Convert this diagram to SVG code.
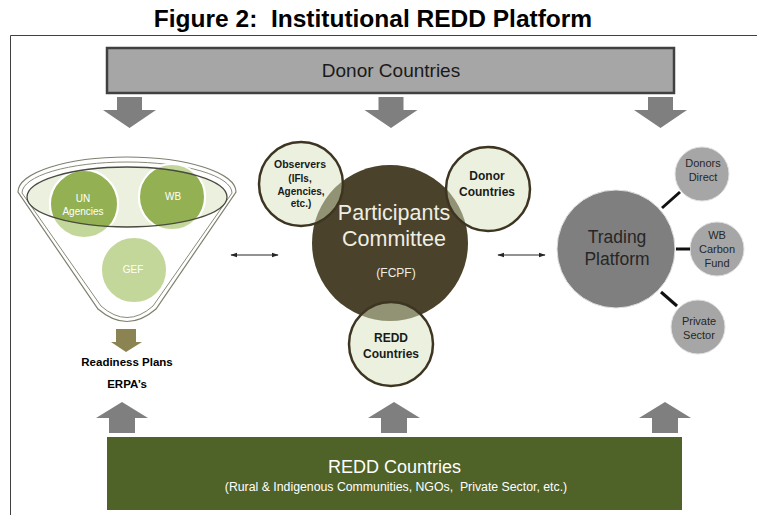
<svg xmlns="http://www.w3.org/2000/svg" width="757" height="515" viewBox="0 0 757 515">
<defs>
<style>
.t{font-family:"Liberation Sans",Arial,sans-serif;white-space:pre}
.b{font-weight:bold}
.bar{stroke:#404040;stroke-width:2.5}
.garrow{fill:#7f7f7f}
.sat{fill:#d7e4bd;fill-opacity:0.5;stroke:#3d3522;stroke-width:2.5}
.satt{font-family:"Liberation Sans",Arial,sans-serif;font-weight:bold;fill:#1a1a1a;text-anchor:middle}
.gc{fill:#a6a6a6;stroke:#e0e0e0;stroke-width:1}
.gct{font-family:"Liberation Sans",Arial,sans-serif;font-size:11px;fill:#262626;text-anchor:middle}
.link{stroke:#111;stroke-width:3}
.dbl{stroke:#262626;stroke-width:1;fill:none;marker-start:url(#ah);marker-end:url(#ah)}
</style>
<marker id="ah" viewBox="0 0 10 10" refX="9" refY="5" markerWidth="7" markerHeight="7" orient="auto-start-reverse" markerUnits="userSpaceOnUse">
<path d="M0,1.5 L10,5 L0,8.5 Z" fill="#262626"/>
</marker>
<clipPath id="ellClip"><ellipse cx="127" cy="197" rx="100" ry="30"/></clipPath>
</defs>
<rect width="757" height="515" fill="#fff"/>

<text id="title" class="t b" x="373" y="27" font-size="24.5" text-anchor="middle" fill="#000">Figure 2:  Institutional REDD Platform</text>
<path d="M10.5,515 V35.5 H757" fill="none" stroke="#404040" stroke-width="1"/>

<g id="donor-bar">
<rect class="bar" x="107" y="48" width="567" height="45" fill="#a6a6a6"/>
<text class="t" x="391" y="77" font-size="19" text-anchor="middle" fill="#1a1a1a">Donor Countries</text>
</g>

<g id="redd-bar">
<rect x="107" y="437" width="575" height="73" fill="#4f6228"/>
<text class="t" x="394.5" y="473" font-size="18" text-anchor="middle" fill="#fff">REDD Countries</text>
<text class="t" x="396" y="491" font-size="12.3" text-anchor="middle" fill="#fff">(Rural &amp; Indigenous Communities, NGOs,  Private Sector, etc.)</text>
</g>

<g id="funnel">
<path d="M18,192 A109,35 0 0 1 236,192 L156,309 Q127,334 98,309 Z" fill="#fff" stroke="#7f7f6f" stroke-width="1.2"/>
<path d="M22,193 A105,31 0 0 1 232,193 L153,306 Q127,329 101,306 Z" fill="none" stroke="#8a8a7a" stroke-width="1"/>
<ellipse cx="127" cy="197" rx="100" ry="30" fill="#ebf1de"/>
<g id="un-agencies">
<circle cx="84" cy="204" r="34" fill="#c4d79b" stroke="#fff" stroke-width="2"/>
<circle cx="84" cy="204" r="34" fill="#93b152" stroke="#fff" stroke-width="2" clip-path="url(#ellClip)"/>
<text class="t" x="83" y="202" font-size="10" text-anchor="middle" fill="#fff">UN</text>
<text class="t" x="83" y="215" font-size="10" text-anchor="middle" fill="#fff">Agencies</text>
</g>
<g id="wb">
<circle cx="172" cy="197" r="33" fill="#c4d79b" stroke="#fff" stroke-width="2"/>
<circle cx="172" cy="197" r="33" fill="#93b152" stroke="#fff" stroke-width="2" clip-path="url(#ellClip)"/>
<text class="t" x="173" y="200" font-size="10" text-anchor="middle" fill="#fff">WB</text>
</g>
<g id="gef">
<circle cx="134" cy="270" r="33" fill="#c4d79b" stroke="#fff" stroke-width="2"/>
<text class="t" x="133" y="273" font-size="10" text-anchor="middle" fill="#fff">GEF</text>
</g>
<ellipse cx="127" cy="197" rx="100" ry="30" fill="none" stroke="#4a4a40" stroke-width="1.3"/>
</g>

<g id="readiness">
<path d="M116,329 H136 V342 H142 L126,352 L111,342 H116 Z" fill="#8b8352"/>
<text class="t b" x="127" y="366" font-size="11.5" text-anchor="middle" fill="#000">Readiness Plans</text>
<text class="t b" x="127" y="388" font-size="11.5" text-anchor="middle" fill="#000">ERPA’s</text>
</g>

<g id="committee">
<circle cx="390" cy="243" r="78" fill="#4a422b"/>
<text class="t" x="394" y="220" font-size="21.5" text-anchor="middle" fill="#efeee2">Participants</text>
<text class="t" x="394" y="246" font-size="21.5" text-anchor="middle" fill="#efeee2">Committee</text>
<text class="t" x="396" y="277" font-size="12" text-anchor="middle" fill="#efeee2">(FCPF)</text>
</g>
<g id="observers">
<circle class="sat" cx="301" cy="184" r="42"/>
<text class="satt" x="300" y="168" font-size="10.5">Observers</text>
<text class="satt" x="300" y="182" font-size="10">(IFIs,</text>
<text class="satt" x="301" y="195" font-size="10">Agencies,</text>
<text class="satt" x="301" y="207" font-size="10">etc.)</text>
</g>
<g id="donor-circle">
<circle class="sat" cx="488" cy="189" r="42"/>
<text class="satt" x="487" y="180" font-size="12">Donor</text>
<text class="satt" x="487" y="196" font-size="12">Countries</text>
</g>
<g id="redd-circle">
<circle class="sat" cx="391" cy="344" r="42"/>
<text class="satt" x="391" y="342" font-size="12">REDD</text>
<text class="satt" x="391" y="358" font-size="12">Countries</text>
</g>

<g id="trading">
<circle cx="616" cy="249" r="59" fill="#7f7f7f" stroke="#e0e0e0" stroke-width="1"/>
<text class="t" x="617" y="243" font-size="17.5" text-anchor="middle" fill="#262626">Trading</text>
<text class="t" x="617" y="265" font-size="17.5" text-anchor="middle" fill="#262626">Platform</text>
</g>
<g id="donors-direct">
<circle class="gc" cx="702" cy="174" r="27"/>
<text class="gct" x="703" y="167">Donors</text>
<text class="gct" x="703" y="181">Direct</text>
</g>
<g id="wb-carbon">
<circle class="gc" cx="717" cy="249" r="27"/>
<text class="gct" x="717" y="239">WB</text>
<text class="gct" x="717" y="253">Carbon</text>
<text class="gct" x="717" y="267">Fund</text>
</g>
<g id="private-sector">
<circle class="gc" cx="698" cy="327" r="27"/>
<text class="gct" x="699" y="325">Private</text>
<text class="gct" x="699" y="339">Sector</text>
</g>

<g id="connectors">
<path class="garrow" d="M117,97 H142 V110 H156 L129.5,128 L103,110 H117 Z"/>
<path class="garrow" d="M378.5,97 H403.5 V110 H417.5 L391,128 L364.5,110 H378.5 Z"/>
<path class="garrow" d="M648,97 H673 V110 H687 L660.5,128 L634,110 H648 Z"/>
<path class="garrow" d="M109,433 H135 V418 H148 L122,402 L96,418 H109 Z"/>
<path class="garrow" d="M381,433 H407 V418 H420 L394,402 L368,418 H381 Z"/>
<path class="garrow" d="M652,433 H678 V418 H691 L665,402 L639,418 H652 Z"/>
<line class="dbl" x1="231" y1="255" x2="278" y2="255"/>
<line class="dbl" x1="498" y1="255" x2="545" y2="255"/>
<line class="link" x1="662" y1="208" x2="680" y2="192"/>
<line class="link" x1="676" y1="249" x2="690" y2="249"/>
<line class="link" x1="661" y1="292" x2="677" y2="306"/>
</g>
</svg>
